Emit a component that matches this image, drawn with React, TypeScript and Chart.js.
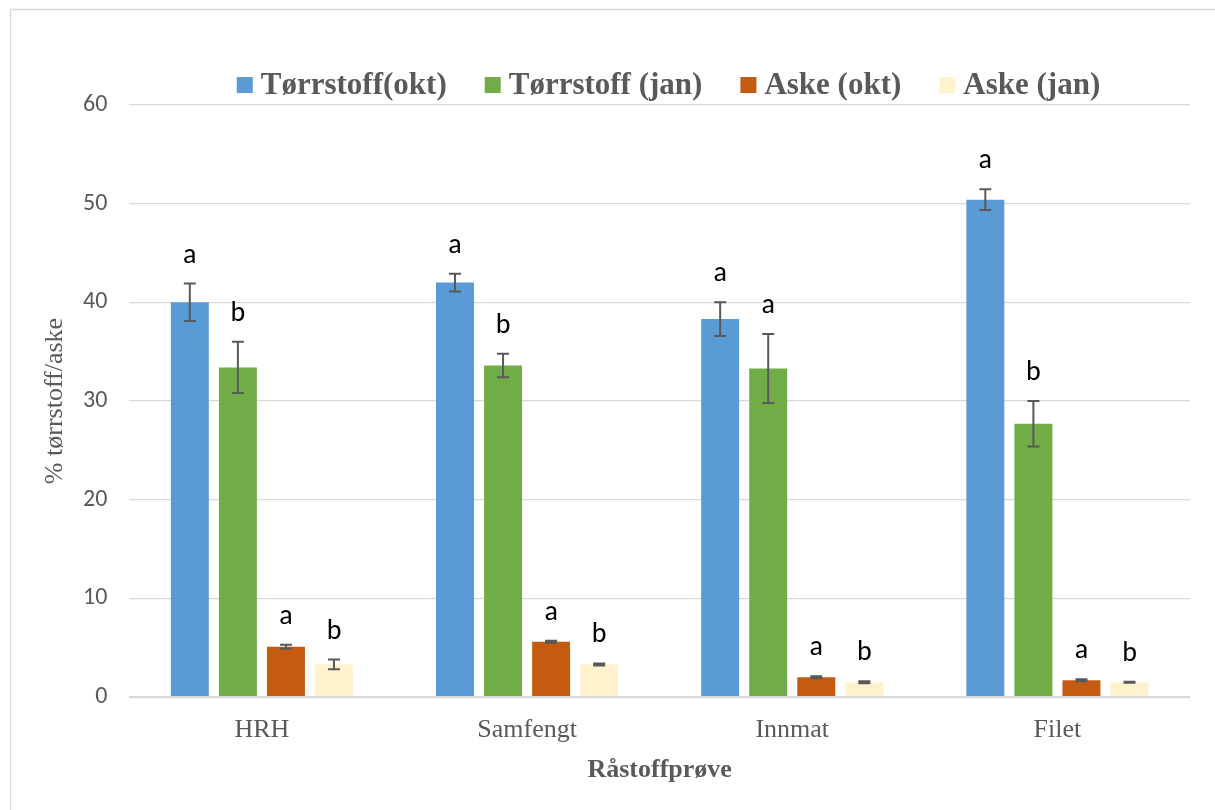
import React, { useEffect, useRef } from "react";
import { Chart, registerables } from "chart.js";

Chart.register(...registerables);

// Råstoff samples on the x axis
const categories = ["HRH", "Samfengt", "Innmat", "Filet"];

// Series labels
const seriesLabels = ["Tørrstoff(okt)", "Tørrstoff (jan)", "Aske (okt)", "Aske (jan)"];

// Mean values (%)
const torrstoffOkt = [40.0, 42.0, 38.3, 50.4];
const torrstoffJan = [33.4, 33.6, 33.3, 27.7];
const askeOkt = [5.1, 5.6, 2.0, 1.7];
const askeJan = [3.3, 3.3, 1.5, 1.5];

// Standard deviations (%)
const torrstoffOktSd = [1.9, 0.9, 1.7, 1.05];
const torrstoffJanSd = [2.6, 1.2, 3.5, 2.3];
const askeOktSd = [0.2, 0.1, 0.1, 0.1];
const askeJanSd = [0.5, 0.1, 0.1, 0.05];

// Significance letters
const torrstoffOktLetters = ["a", "a", "a", "a"];
const torrstoffJanLetters = ["b", "b", "a", "b"];
const askeOktLetters = ["a", "a", "a", "a"];
const askeJanLetters = ["b", "b", "b", "b"];

const seriesColors = ["#5b9bd5", "#70ad47", "#c55a11", "#fff2cc"];

const TEXT_GREY = "#595959";
const GRID_GREY = "#d9d9d9";
const SERIF = "'Times New Roman', 'Liberation Serif', serif";
const SANS = "Calibri, Carlito, 'Open Sans', sans-serif";

const errorValues = [torrstoffOktSd, torrstoffJanSd, askeOktSd, askeJanSd];
const letterValues = [torrstoffOktLetters, torrstoffJanLetters, askeOktLetters, askeJanLetters];

const errorBarsPlugin = {
  id: "errorBarsAndLetters",
  afterDatasetsDraw(chart: any) {
    const ctx = chart.ctx;
    const yScale = chart.scales.y;
    chart.data.datasets.forEach((ds: any, di: number) => {
      const meta = chart.getDatasetMeta(di);
      meta.data.forEach((bar: any, i: number) => {
        const v = ds.data[i] as number;
        const sd = errorValues[di][i];
        const x = bar.x;
        const yTop = yScale.getPixelForValue(v + sd);
        const yBot = yScale.getPixelForValue(v - sd);
        ctx.save();
        ctx.strokeStyle = TEXT_GREY;
        ctx.lineWidth = 2;
        ctx.beginPath();
        ctx.moveTo(x, yTop);
        ctx.lineTo(x, yBot);
        ctx.moveTo(x - 6, yTop);
        ctx.lineTo(x + 6, yTop);
        ctx.moveTo(x - 6, yBot);
        ctx.lineTo(x + 6, yBot);
        ctx.stroke();
        ctx.fillStyle = "#000000";
        ctx.font = `28px ${SANS}`;
        ctx.textAlign = "center";
        ctx.textBaseline = "middle";
        ctx.fillText(letterValues[di][i], x, yTop - 28);
        ctx.restore();
      });
    });
  },
};

const legendAndFramePlugin = {
  id: "legendAndFrame",
  afterDraw(chart: any) {
    const ctx = chart.ctx;
    ctx.save();
    // outer frame
    ctx.strokeStyle = GRID_GREY;
    ctx.lineWidth = 1.3;
    ctx.beginPath();
    ctx.moveTo(10.5, 810);
    ctx.lineTo(10.5, 9.5);
    ctx.lineTo(1215, 9.5);
    ctx.stroke();

    // legend row
    ctx.font = `bold 31px ${SERIF}`;
    const box = 16;
    const boxGap = 8;
    const itemGap = 38;
    const widths = chart.data.datasets.map((d: any) => ctx.measureText(d.label).width);
    const total =
      widths.reduce((a: number, w: number) => a + box + boxGap + w, 0) +
      itemGap * (widths.length - 1);
    let x = 668.5 - total / 2;
    const cy = 85;
    chart.data.datasets.forEach((d: any, i: number) => {
      ctx.fillStyle = d.backgroundColor;
      ctx.fillRect(x, cy - box / 2, box, box);
      x += box + boxGap;
      ctx.fillStyle = TEXT_GREY;
      ctx.textAlign = "left";
      ctx.textBaseline = "middle";
      ctx.fillText(d.label, x, cy + 1);
      x += widths[i] + itemGap;
    });
    ctx.restore();
  },
};

export default function App() {
  const canvasRef = useRef<HTMLCanvasElement | null>(null);

  useEffect(() => {
    if (!canvasRef.current) return;
    const seriesData = [torrstoffOkt, torrstoffJan, askeOkt, askeJan];
    const chart = new Chart(canvasRef.current, {
      type: "bar",
      data: {
        labels: categories,
        datasets: seriesData.map((values, i) => ({
          label: seriesLabels[i],
          data: values,
          backgroundColor: seriesColors[i],
          borderWidth: 0,
          categoryPercentage: 0.725,
          barPercentage: 0.79,
        })),
      },
      options: {
        responsive: false,
        animation: false,
        layout: { padding: { top: 105, left: 39.4, right: 25, bottom: 24.4 } },
        plugins: {
          legend: { display: false },
          tooltip: { enabled: false },
        },
        scales: {
          x: {
            grid: { display: false, drawTicks: false },
            border: { display: false },
            ticks: {
              color: TEXT_GREY,
              font: { family: SERIF, size: 26 },
              padding: 17.4,
            },
            title: {
              display: true,
              text: "Råstoffprøve",
              color: TEXT_GREY,
              font: { family: SERIF, size: 26, weight: "bold" },
              padding: { top: -8.6, bottom: 0 },
            },
          },
          y: {
            min: 0,
            max: 60,
            border: { display: false },
            grid: {
              color: GRID_GREY,
              lineWidth: (c: any) => (c.tick && c.tick.value === 0 ? 2.2 : 1.3),
              drawTicks: false,
            },
            ticks: {
              stepSize: 10,
              color: TEXT_GREY,
              font: { family: SANS, size: 24 },
              padding: 22,
            },
            title: {
              display: true,
              text: "% tørrstoff/aske",
              color: TEXT_GREY,
              font: { family: SERIF, size: 26 },
              padding: { top: 0, bottom: -9.6 },
            },
          },
        },
      },
      plugins: [errorBarsPlugin, legendAndFramePlugin],
    });
    return () => chart.destroy();
  }, []);

  return (
    <div style={{ position: "absolute", left: 0, top: 0, width: 1215, height: 810, background: "#ffffff" }}>
      <canvas ref={canvasRef} width={1215} height={810} style={{ display: "block" }} />
    </div>
  );
}
